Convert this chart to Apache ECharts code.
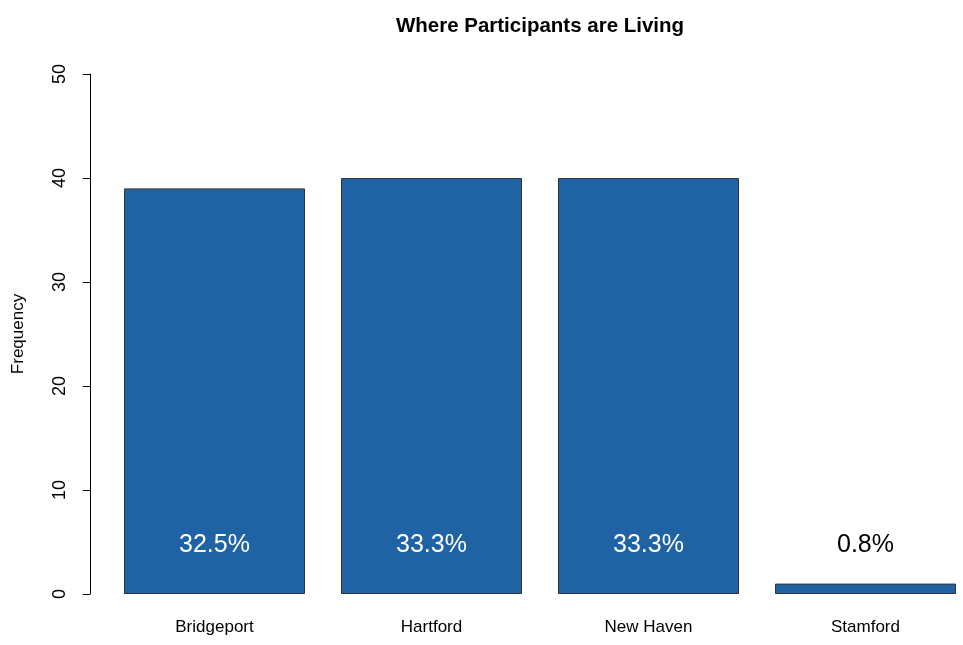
<!DOCTYPE html>
<html>
<head>
<meta charset="utf-8">
<script src="https://cdn.jsdelivr.net/npm/echarts@6/dist/echarts.min.js"></script>
<style>html,body{margin:0;padding:0;background:#fff;}#c{width:963px;height:645px;}</style>
</head>
<body>
<div id="c"></div>
<script>
const categories = ['Bridgeport', 'Hartford', 'New Haven', 'Stamford'];
const frequencies = [39, 40, 40, 1];
const percentLabels = ['32.5%', '33.3%', '33.3%', '0.8%'];
const labelHeights = [5, 5, 5, 5];
const labelColors = ['#ffffff', '#ffffff', '#ffffff', '#000000'];
const yTicks = [0, 10, 20, 30, 40, 50];

const chart = echarts.init(document.getElementById('c'), null, {renderer: 'canvas'});
const font = '"Liberation Sans", Arial, Helvetica, sans-serif';
chart.setOption({
  animation: false,
  backgroundColor: '#ffffff',
  title: {
    text: 'Where Participants are Living',
    left: 535, top: 11, textAlign: 'center',
    textStyle: {fontFamily: font, fontWeight: 'bold', fontSize: 20.5, color: '#000'}
  },
  grid: {left: 106, right: -11, top: 74, bottom: 51, containLabel: false, outerBoundsMode: 'none'},
  xAxis: {
    type: 'category', data: categories,
    axisLine: {show: false}, axisTick: {show: false},
    axisLabel: {fontFamily: font, fontSize: 17, color: '#000', margin: 25}
  },
  yAxis: {
    type: 'value', min: yTicks[0], max: yTicks[yTicks.length - 1], interval: 10,
    offset: 16,
    name: 'Frequency', nameLocation: 'middle', nameRotate: 90, nameGap: 63,
    nameTextStyle: {fontFamily: font, fontSize: 17, color: '#000'},
    axisLine: {show: true, lineStyle: {color: '#000', width: 1}},
    axisTick: {show: true, length: 7, lineStyle: {color: '#000'}},
    splitLine: {show: false},
    axisLabel: {fontFamily: font, fontSize: 18, color: '#000', rotate: 90, margin: 21}
  },
  series: [
    {
      type: 'bar', data: frequencies, barWidth: 181,
      itemStyle: {color: '#1f63a5', borderColor: '#333333', borderWidth: 1}
    },
    {
      type: 'scatter', symbolSize: 0,
      itemStyle: {opacity: 1},
      data: labelHeights.map((v, i) => ({
        value: v,
        label: {show: true, position: 'inside', offset: [0, 3], formatter: percentLabels[i],
                color: labelColors[i], fontFamily: font, fontSize: 25, opacity: 1}
      })),
      z: 5
    }
  ]
});
</script>
</body>
</html>
